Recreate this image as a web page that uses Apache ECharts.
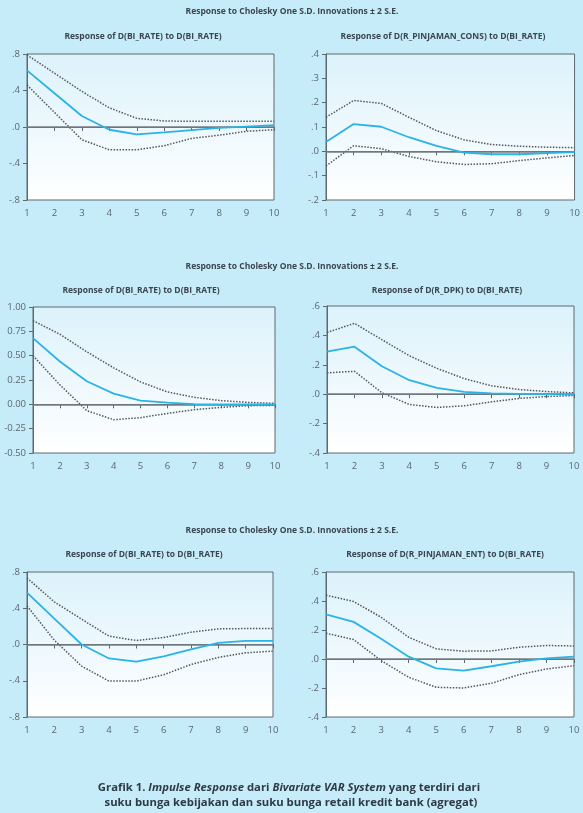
<!DOCTYPE html>
<html>
<head>
<meta charset="utf-8">
<script src="https://cdn.jsdelivr.net/npm/echarts@6/dist/echarts.min.js"></script>
<style>
html, body { margin: 0; padding: 0; background: #c6ecf9; }
#chart { width: 583px; height: 813px; }
</style>
</head>
<body>
<div id="chart"></div>
<script>
const periods = [1, 2, 3, 4, 5, 6, 7, 8, 9, 10];

// D(BI_RATE) -> D(BI_RATE), top left
const resp_bi_a = [0.62, 0.37, 0.12, -0.03, -0.08, -0.06, -0.035, -0.01, 0.005, 0.02];
const up_bi_a = [0.79, 0.59, 0.39, 0.21, 0.095, 0.066, 0.062, 0.062, 0.062, 0.062];
const lo_bi_a = [0.46, 0.16, -0.14, -0.25, -0.25, -0.205, -0.125, -0.09, -0.047, -0.03];

// D(R_PINJAMAN_CONS) -> D(BI_RATE)
const resp_cons = [0.038, 0.112, 0.101, 0.058, 0.022, -0.005, -0.012, -0.012, -0.007, -0.003];
const up_cons = [0.14, 0.209, 0.197, 0.14, 0.085, 0.047, 0.028, 0.021, 0.017, 0.015];
const lo_cons = [-0.06, 0.023, 0.011, -0.021, -0.043, -0.054, -0.051, -0.038, -0.027, -0.017];

// D(BI_RATE) -> D(BI_RATE), middle left
const resp_bi_b = [0.68, 0.44, 0.237, 0.11, 0.038, 0.017, 0.003, 0.0, 0.0, 0.0];
const up_bi_b = [0.86, 0.72, 0.54, 0.375, 0.23, 0.127, 0.072, 0.038, 0.02, 0.01];
const lo_bi_b = [0.5, 0.2, -0.065, -0.158, -0.137, -0.093, -0.055, -0.031, -0.014, -0.01];

// D(R_DPK) -> D(BI_RATE)
const resp_dpk = [0.29, 0.323, 0.19, 0.095, 0.043, 0.016, 0.005, 0.002, 0.0, -0.002];
const up_dpk = [0.42, 0.482, 0.371, 0.262, 0.176, 0.106, 0.057, 0.032, 0.018, 0.009];
const lo_dpk = [0.145, 0.156, 0.01, -0.07, -0.09, -0.079, -0.052, -0.029, -0.016, -0.009];

// D(BI_RATE) -> D(BI_RATE), bottom left
const resp_bi_c = [0.572, 0.286, 0.0, -0.154, -0.19, -0.132, -0.055, 0.018, 0.04, 0.04];
const up_bi_c = [0.734, 0.47, 0.279, 0.092, 0.044, 0.077, 0.136, 0.172, 0.176, 0.176];
const lo_bi_c = [0.426, 0.048, -0.239, -0.404, -0.404, -0.334, -0.22, -0.143, -0.092, -0.073];

// D(R_PINJAMAN_ENT) -> D(BI_RATE)
const resp_ent = [0.307, 0.256, 0.14, 0.016, -0.065, -0.08, -0.05, -0.018, 0.005, 0.017];
const up_ent = [0.44, 0.397, 0.288, 0.15, 0.07, 0.054, 0.056, 0.081, 0.093, 0.09];
const lo_ent = [0.178, 0.134, -0.011, -0.126, -0.195, -0.2, -0.168, -0.108, -0.069, -0.046];

// y axis [min, max, step]
const y_bi_a = [-0.8, 0.8, 0.4];
const y_cons = [-0.2, 0.4, 0.1];
const y_bi_b = [-0.5, 1.0, 0.25];
const y_dpk = [-0.4, 0.6, 0.2];
const y_bi_c = [-0.8, 0.8, 0.4];
const y_ent = [-0.4, 0.6, 0.2];

const SUPER_TITLE = "Response to Cholesky One S.D. Innovations \u00b1 2 S.E.";

const FONT = "'Open Sans', sans-serif";
const TEXT = "#3b4650";
const AXIS = "#5d6870";

const panels = [
    { title: "Response of D(BI_RATE) to D(BI_RATE)", resp: resp_bi_a, up: up_bi_a, lo: lo_bi_a, y: y_bi_a, dec: 1, box: [27, 54, 247, 146], tx: 143, ty: 37 },
    { title: "Response of D(R_PINJAMAN_CONS) to D(BI_RATE)", resp: resp_cons, up: up_cons, lo: lo_cons, y: y_cons, dec: 1, box: [326, 54, 250, 146], tx: 443, ty: 37 },
    { title: "Response of D(BI_RATE) to D(BI_RATE)", resp: resp_bi_b, up: up_bi_b, lo: lo_bi_b, y: y_bi_b, dec: 2, box: [33, 307, 242, 146], tx: 141, ty: 291 },
    { title: "Response of D(R_DPK) to D(BI_RATE)", resp: resp_dpk, up: up_dpk, lo: lo_dpk, y: y_dpk, dec: 1, box: [327, 306, 247, 147], tx: 447, ty: 291 },
    { title: "Response of D(BI_RATE) to D(BI_RATE)", resp: resp_bi_c, up: up_bi_c, lo: lo_bi_c, y: y_bi_c, dec: 1, box: [27, 572, 246, 145], tx: 144, ty: 555 },
    { title: "Response of D(R_PINJAMAN_ENT) to D(BI_RATE)", resp: resp_ent, up: up_ent, lo: lo_ent, y: y_ent, dec: 1, box: [326, 572, 248, 145], tx: 445, ty: 555 },
];

// eviews drops the leading zero: .4, -.8
const fmt = (dec) => (v) => {
    const s = v.toFixed(dec);
    return dec === 1 ? s.replace(/^(-?)0\./, "$1.") : s;
};

const grid = [], xAxis = [], yAxis = [], series = [];
const graphic = [];

panels.forEach((p, i) => {
    const [left, top, width, height] = p.box;
    grid.push({
        left, top, width, height,
        show: true,
        borderColor: AXIS,
        borderWidth: 1,
        backgroundColor: new echarts.graphic.LinearGradient(0, 0, 0, 1, [
            { offset: 0, color: "#dcf2fb" },
            { offset: 1, color: "#ffffff" },
        ]),
    });
    xAxis.push({
        gridIndex: i,
        type: "category",
        data: periods,
        boundaryGap: false,
        axisLine: { lineStyle: { color: AXIS, width: 1 } },
        axisTick: { length: 4, lineStyle: { color: AXIS } },
        axisLabel: { color: "#5a6670", fontFamily: FONT, fontSize: 9.5, margin: 8 },
        splitLine: { show: false },
    });
    yAxis.push({
        gridIndex: i,
        type: "value",
        min: p.y[0],
        max: p.y[1],
        interval: p.y[2],
        axisLine: { show: true, lineStyle: { color: AXIS, width: 1 } },
        axisTick: { show: true, length: 4, lineStyle: { color: AXIS } },
        axisLabel: { color: "#5a6670", fontFamily: FONT, fontSize: 9.5, margin: 7, formatter: fmt(p.dec) },
        splitLine: { show: false },
    });

    const band = (data) => ({
        type: "line",
        xAxisIndex: i,
        yAxisIndex: i,
        data,
        symbol: "none",
        lineStyle: { color: "#50585e", width: 1.5, type: [1.5, 1.5] },
    });
    series.push({
        ...band(p.up),
        markLine: {
            silent: true,
            symbol: "none",
            label: { show: false },
            lineStyle: { color: "#737c82", width: 1.5, type: "solid" },
            data: [{ yAxis: 0 }],
        },
    });
    series.push(band(p.lo));
    series.push({
        type: "line",
        xAxisIndex: i,
        yAxisIndex: i,
        data: p.resp,
        symbol: "none",
        lineStyle: { color: "#2ab3e6", width: 1.8 },
        z: 5,
    });

    graphic.push({
        type: "text",
        x: p.tx,
        y: p.ty,
        style: { text: p.title, fill: TEXT, font: `bold 8.5px ${FONT}`, align: "center", verticalAlign: "middle" },
    });
});

[12, 267, 531].forEach((y) => {
    graphic.push({
        type: "text",
        x: 292,
        y,
        style: { text: SUPER_TITLE, fill: TEXT, font: `bold 8.5px ${FONT}`, align: "center", verticalAlign: "middle" },
    });
});

// caption below the panels
graphic.push({
    type: "text",
    x: 289,
    y: 788,
    style: {
        text: "{b|Grafik 1. }{i|Impulse Response}{b| dari }{i|Bivariate VAR System}{b| yang terdiri dari}",
        align: "center",
        verticalAlign: "middle",
        rich: {
            b: { fill: "#2e3a44", font: `bold 11.3px ${FONT}` },
            i: { fill: "#2e3a44", font: `italic bold 11.3px ${FONT}` },
        },
    },
});
graphic.push({
    type: "text",
    x: 291,
    y: 803,
    style: { text: "suku bunga kebijakan dan suku bunga retail kredit bank (agregat)", fill: "#2e3a44", font: `bold 11.3px ${FONT}`, align: "center", verticalAlign: "middle" },
});

const chart = echarts.init(document.getElementById("chart"), null, { renderer: "canvas" });
chart.setOption({
    backgroundColor: "#c6ecf9",
    animation: false,
    grid,
    xAxis,
    yAxis,
    series,
    graphic,
});
</script>
</body>
</html>
